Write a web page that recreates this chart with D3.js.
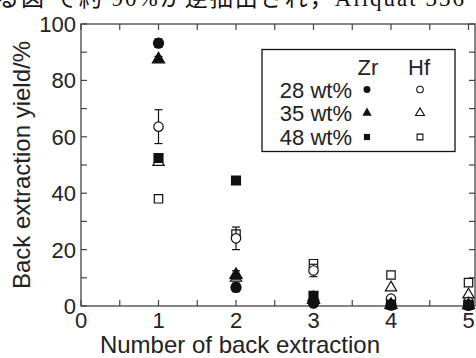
<!DOCTYPE html>
<html>
<head>
<meta charset="utf-8">
<script src="https://cdn.jsdelivr.net/npm/d3@7"></script>
<style>
  html, body { margin: 0; padding: 0; background: #fff; }
  svg { display: block; }
  text { font-family: "Liberation Sans", Arial, sans-serif; fill: #222; }
</style>
</head>
<body>
<script>
// Number of back extraction steps
const steps = [1, 2, 3, 4, 5];

// Zr back extraction yield (%) and error for each Aliquat 336 concentration
const zr28 = [93.2, 6.6, 1.0, 0.3, 0.2];
const zr28Err = [1.5, 1.5, 0.6, 0, 0];
const zr35 = [87.5, 11.0, 2.2, 0.4, 0.3];
const zr35Err = [1.0, 1.5, 0.8, 0, 0];
const zr48 = [52.5, 44.5, 3.6, 0.5, 0.4];
const zr48Err = [1.0, 1.0, 0.8, 0, 0];

// Hf back extraction yield (%) and error
const hf28 = [63.6, 24.0, 12.6, 2.6, 1.5];
const hf28Err = [6.0, 4.0, 2.2, 0, 0];
const hf35 = [51.0, 10.0, 3.0, 6.5, 4.0];
const hf35Err = [1.0, 1.0, 0, 0, 0];
const hf48 = [38.0, 25.5, 15.0, 11.0, 8.3];
const hf48Err = [0.8, 1.0, 1.0, 0, 0];

// Axis ticks
const xMajor = [0, 1, 2, 3, 4, 5];
const xMinor = [0.5, 1.5, 2.5, 3.5, 4.5];
const yMajor = [0, 20, 40, 60, 80, 100];
const yMinor = [10, 30, 50, 70, 90];

// Legend rows
const legendLabels = ["28 wt%", "35 wt%", "48 wt%"];
const legendHeads = ["Zr", "Hf"];

const W = 476, H = 358;
const svg = d3.select("body").append("svg").attr("width", W).attr("height", H);

// Partial line of body text above the figure (only its lower half falls on the page)
svg.append("text")
  .attr("x", -4).attr("y", 6)
  .style("font-family", "'Liberation Serif', 'Noto Sans CJK JP', serif")
  .style("font-size", "23px")
  .style("letter-spacing", "2px")
  .style("fill", "#111")
  .text("る図 で約 90%が逆抽出され，Aliquat 336");

const plot = { left: 81, right: 475, top: 24, bottom: 306 };
const x = d3.scaleLinear().domain([0, 5]).range([plot.left, 468.5]);
const y = d3.scaleLinear().domain([0, 100]).range([plot.bottom, plot.top]);

const axisColor = "#444";
const g = svg.append("g");

// Frame
g.append("rect")
  .attr("x", plot.left).attr("y", plot.top)
  .attr("width", plot.right - plot.left).attr("height", plot.bottom - plot.top)
  .attr("fill", "none").attr("stroke", axisColor).attr("stroke-width", 1.3);

const tickLen = 6;
const allX = xMajor.concat(xMinor);
const allY = yMajor.concat(yMinor);

// Inward ticks on all four sides
g.selectAll(".xtb").data(allX).join("line")
  .attr("x1", d => x(d)).attr("x2", d => x(d))
  .attr("y1", plot.bottom).attr("y2", plot.bottom - tickLen)
  .attr("stroke", axisColor).attr("stroke-width", 1.2);
g.selectAll(".xtt").data(allX).join("line")
  .attr("x1", d => x(d)).attr("x2", d => x(d))
  .attr("y1", plot.top).attr("y2", plot.top + tickLen)
  .attr("stroke", axisColor).attr("stroke-width", 1.2);
g.selectAll(".ytl").data(allY).join("line")
  .attr("x1", plot.left).attr("x2", plot.left + tickLen)
  .attr("y1", d => y(d)).attr("y2", d => y(d))
  .attr("stroke", axisColor).attr("stroke-width", 1.2);
g.selectAll(".ytr").data(allY).join("line")
  .attr("x1", plot.right).attr("x2", plot.right - tickLen)
  .attr("y1", d => y(d)).attr("y2", d => y(d))
  .attr("stroke", axisColor).attr("stroke-width", 1.2);

// Tick labels
g.selectAll(".xl").data(xMajor).join("text")
  .attr("x", d => x(d)).attr("y", plot.bottom + 22)
  .attr("text-anchor", "middle").style("font-size", "22px")
  .text(d => d);
g.selectAll(".yl").data(yMajor).join("text")
  .attr("x", plot.left - 5).attr("y", d => y(d) + 8)
  .attr("text-anchor", "end").style("font-size", "22px")
  .text(d => d);

// Axis titles
svg.append("text")
  .attr("x", 240).attr("y", 353)
  .attr("text-anchor", "middle").style("font-size", "24px")
  .text("Number of back extraction");
svg.append("text")
  .attr("transform", "translate(30,165) rotate(-90)")
  .attr("text-anchor", "middle").style("font-size", "24px")
  .text("Back extraction yield/%");

// Series
const series = [
  { v: hf48, e: hf48Err, shape: d3.symbolSquare, fill: false, size: 70 },
  { v: hf35, e: hf35Err, shape: d3.symbolTriangle, fill: false, size: 55 },
  { v: hf28, e: hf28Err, shape: d3.symbolCircle, fill: false, size: 70 },
  { v: zr48, e: zr48Err, shape: d3.symbolSquare, fill: true, size: 80 },
  { v: zr35, e: zr35Err, shape: d3.symbolTriangle, fill: true, size: 65 },
  { v: zr28, e: zr28Err, shape: d3.symbolCircle, fill: true, size: 80 }
];

const markColor = "#111";
series.forEach(s => {
  const pts = steps.map((st, i) => ({ x: st, v: s.v[i], e: s.e[i] }));
  const sg = g.append("g");
  const withErr = pts.filter(p => p.e > 0);
  sg.selectAll(".eb").data(withErr).join("line")
    .attr("x1", p => x(p.x)).attr("x2", p => x(p.x))
    .attr("y1", p => y(p.v - p.e)).attr("y2", p => y(p.v + p.e))
    .attr("stroke", markColor).attr("stroke-width", 1.2);
  [1, -1].forEach(sign => {
    sg.selectAll(".cap" + sign).data(withErr).join("line")
      .attr("x1", p => x(p.x) - 4).attr("x2", p => x(p.x) + 4)
      .attr("y1", p => y(p.v + sign * p.e)).attr("y2", p => y(p.v + sign * p.e))
      .attr("stroke", markColor).attr("stroke-width", 1.2);
  });
  sg.selectAll(".m").data(pts).join("path")
    .attr("transform", p => `translate(${x(p.x)},${y(p.v)})`)
    .attr("d", d3.symbol().type(s.shape).size(s.size)())
    .attr("fill", s.fill ? markColor : "#fff")
    .attr("stroke", markColor).attr("stroke-width", 1.2);
});

// Legend
const lg = svg.append("g");
lg.append("rect")
  .attr("x", 262).attr("y", 49.5).attr("width", 193).attr("height", 102)
  .attr("fill", "#fff").attr("stroke", "#111").attr("stroke-width", 1.3);
const headX = [368, 419];
lg.selectAll(".hd").data(legendHeads).join("text")
  .attr("x", (d, i) => headX[i]).attr("y", 75)
  .attr("text-anchor", "middle").style("font-size", "22px")
  .text(d => d);
const rowY = [89.5, 113, 137];
lg.selectAll(".lb").data(legendLabels).join("text")
  .attr("x", 352).attr("y", (d, i) => rowY[i] + 8)
  .attr("text-anchor", "end").style("font-size", "22px")
  .text(d => d);
const legendShapes = [d3.symbolCircle, d3.symbolTriangle, d3.symbolSquare];
legendShapes.forEach((shape, i) => {
  lg.append("path")
    .attr("transform", `translate(367,${rowY[i]})`)
    .attr("d", d3.symbol().type(shape).size(38)())
    .attr("fill", markColor);
  lg.append("path")
    .attr("transform", `translate(420,${rowY[i]})`)
    .attr("d", d3.symbol().type(shape).size(34)())
    .attr("fill", "#fff").attr("stroke", markColor).attr("stroke-width", 1.1);
});
</script>
</body>
</html>
